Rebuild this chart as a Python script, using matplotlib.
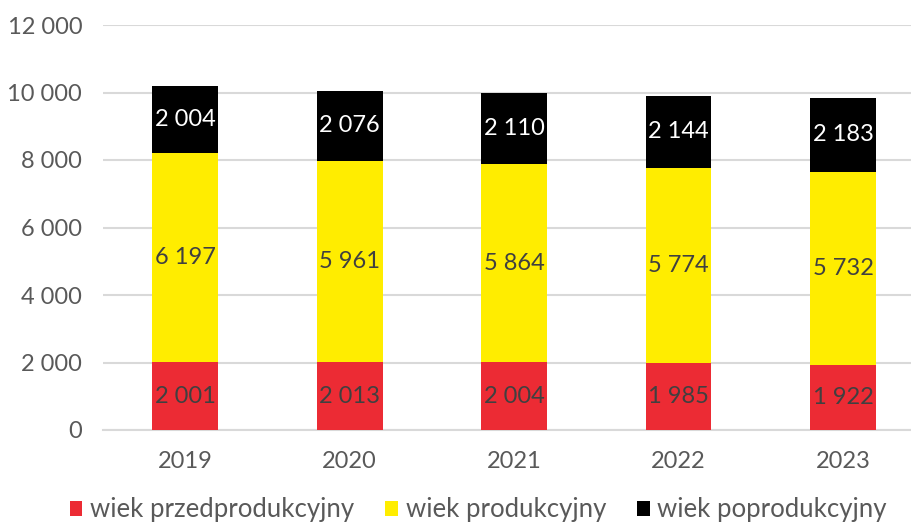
import matplotlib.pyplot as plt
import numpy as np

years = ["2019", "2020", "2021", "2022", "2023"]
przed = [2001, 2013, 2004, 1985, 1922]
prod = [6197, 5961, 5864, 5774, 5732]
popr = [2004, 2076, 2110, 2144, 2183]

labels = ["wiek przedprodukcyjny", "wiek produkcyjny", "wiek poprodukcyjny"]
colors = ["#EC2B34", "#FFED00", "#000000"]
txt_colors = ["#404040", "#404040", "#FFFFFF"]

plt.rcParams['font.family'] = ['Lato', 'DejaVu Sans']
gray = "#595959"


def fmt(v):
    return f"{v:,}".replace(",", " ")


fig = plt.figure(figsize=(9.11, 5.27), dpi=100)
ax = fig.add_axes([103 / 911, 97 / 527, (911 - 103) / 911, 405 / 527])

x = np.arange(len(years))
bottom = np.zeros(len(years))
for series, c, tc, lab in zip([przed, prod, popr], colors, txt_colors, labels):
    bars = ax.bar(x, series, 0.4, bottom=bottom, color=c, label=lab, zorder=3)
    for b, v, btm in zip(bars, series, bottom):
        ax.text(b.get_x() + b.get_width() / 2, btm + v / 2, fmt(v),
                ha="center", va="center", color=tc, fontsize=17, zorder=4)
    bottom += series

ax.set_xlim(-0.5, 4 + (911 - 843) / 164.4)
ax.set_ylim(0, 12000)
ax.set_yticks(range(0, 12001, 2000))
ax.set_yticklabels([fmt(v) for v in range(0, 12001, 2000)])
ax.set_xticks(x)
ax.set_xticklabels(years)
ax.tick_params(axis="both", length=0, labelsize=17, labelcolor=gray)
ax.tick_params(axis="y", pad=15)
ax.tick_params(axis="x", pad=15)
ax.grid(axis="y", color="#D9D9D9", linewidth=1.5, zorder=0)
for s in ["top", "right", "left"]:
    ax.spines[s].set_visible(False)
ax.spines["bottom"].set_color("#D9D9D9")
ax.spines["bottom"].set_linewidth(1.5)

leg = fig.legend(loc="lower center", bbox_to_anchor=(0.525, -0.035), ncol=3,
                 frameon=False, fontsize=18.5, handlelength=0.5, handleheight=0.5,
                 handletextpad=0.3, columnspacing=1.2)
for t in leg.get_texts():
    t.set_color(gray)

fig.savefig("out.png", dpi=100)
